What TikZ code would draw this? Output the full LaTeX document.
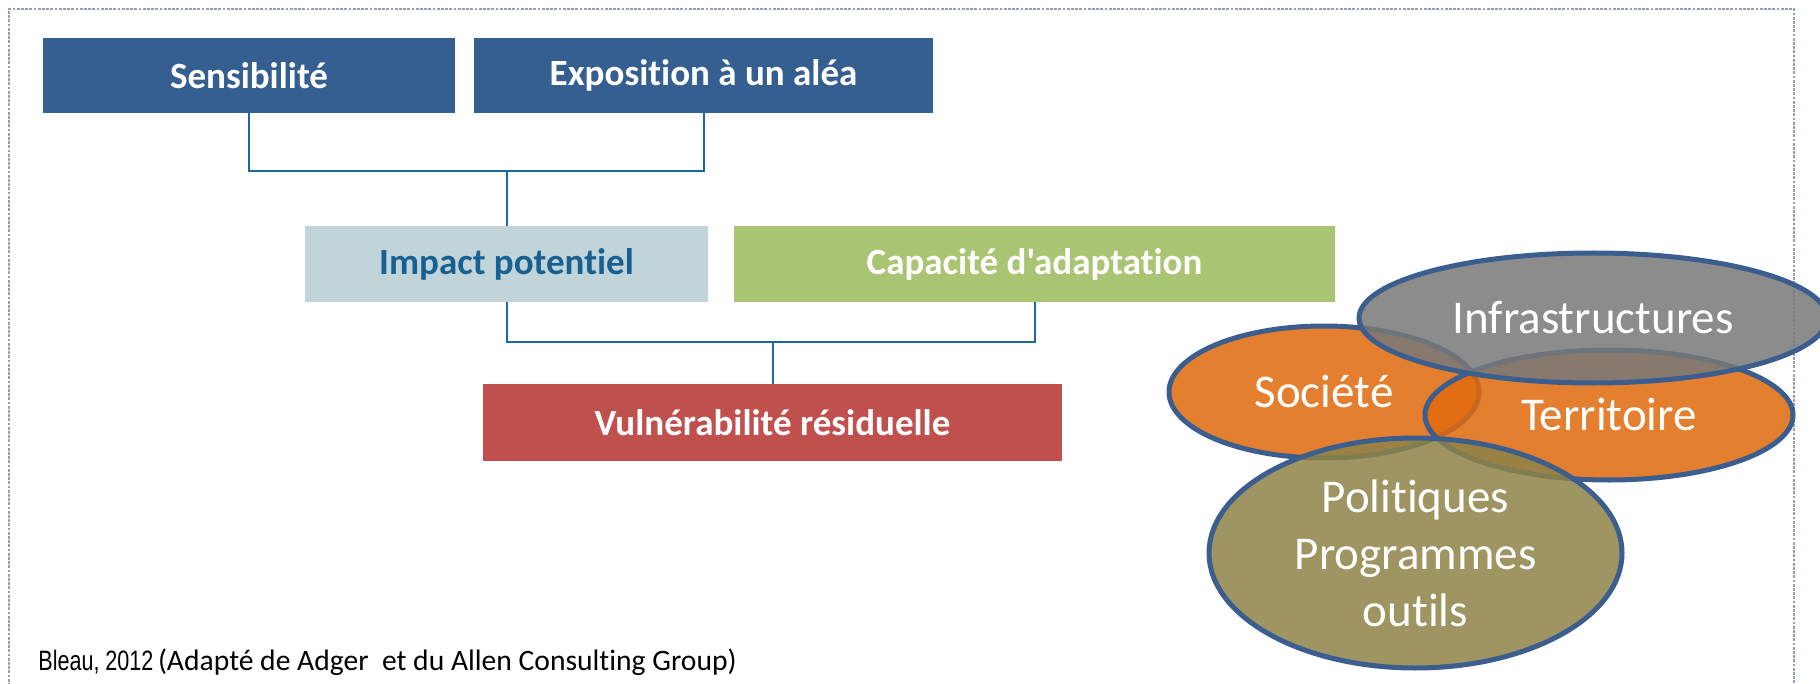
\documentclass[tikz,border=0pt]{standalone}
\usepackage{fontspec}
\setmainfont[Ligatures={TeXOff,NoCommon}]{Carlito}
\newfontfamily\arialfont[FakeStretch=0.77]{Liberation Sans}
\usetikzlibrary{shapes.geometric}

\definecolor{cadre}{RGB}{142,162,190}
\definecolor{bleuboite}{RGB}{54,95,145}
\definecolor{grisbleu}{RGB}{193,212,217}
\definecolor{textebleu}{RGB}{23,96,145}
\definecolor{vertboite}{RGB}{169,196,115}
\definecolor{rougeboite}{RGB}{192,80,77}
\definecolor{lien}{RGB}{28,104,156}
\definecolor{contour}{RGB}{60,94,142}
\definecolor{orangebulle}{RGB}{225,105,12}
\definecolor{grisbulle}{RGB}{120,120,120}
\definecolor{olivebulle}{RGB}{141,131,70}

\begin{document}
\begin{tikzpicture}[x=0.5pt,y=0.5pt,yscale=-1,xscale=1,
	boite/.style={rectangle,inner sep=0pt,minimum height=37.5pt,text=white,font=\fontsize{18.5}{22}\selectfont\bfseries},
	lien/.style={draw=lien,line width=1pt},
	bulle/.style={ellipse,draw=contour,line width=2.5pt,inner sep=0pt,fill opacity=0.85,text opacity=1,text=white,font=\fontsize{23.5}{28.5}\selectfont,align=center}]
	\useasboundingbox (0,0) rectangle (1820,684);
	\clip (0,0) rectangle (1820,684);

	% Frame
	\draw [cadre,line width=0.75pt,dash pattern=on 1.4pt off 0.7pt] (9,690) -- (9,9) -- (1794,9) -- (1794,690);

	% Text Node
	\node [boite,fill=bleuboite,minimum width=206pt] (sens) at (249,75.5) {Sensibilité};
	% Text Node
	\node [boite,fill=bleuboite,minimum width=229.5pt] (expo) at (703.5,75.5) {Exposition à un aléa};
	% Text Node
	\node [boite,fill=grisbleu,text=textebleu,minimum width=201.5pt,minimum height=38pt] (imp) at (506.5,264) {Impact potentiel};
	% Text Node
	\node [boite,fill=vertboite,minimum width=300.5pt,minimum height=38pt] (cap) at (1034.5,264) {Capacité d'adaptation};
	% Text Node
	\node [boite,fill=rougeboite,minimum width=289.5pt,minimum height=38.5pt] (vul) at (772.5,422.5) {Vulnérabilité résiduelle};

	\coordinate (barre1) at (0,171);
	\coordinate (barre2) at (0,342);
	% Connection
	\draw [lien] (sens.south) |- (expo.south |- barre1) -- (expo.south);
	\draw [lien] (imp.north) -- (imp.north |- barre1);
	% Connection
	\draw [lien] (imp.south) |- (cap.south |- barre2) -- (cap.south);
	\draw [lien] (vul.north) -- (vul.north |- barre2);

	% Ellipse Node
	\node [bulle,fill=orangebulle,minimum width=155pt,minimum height=66pt] (soc) at (1324,392) {Société};
	% Ellipse Node
	\node [bulle,fill=orangebulle,minimum width=184pt,minimum height=65pt] (terr) at (1609,415) {Territoire};
	% Ellipse Node
	\node [bulle,fill=grisbulle,minimum width=234pt,minimum height=65pt] (infra) at (1593,318) {Infrastructures};
	% Ellipse Node
	\node [bulle,fill=olivebulle,minimum width=206.5pt,minimum height=115pt] (pol) at (1415.5,553) {Politiques\\Programmes\\outils};

	% Text Node
	\node [anchor=base west,inner sep=0pt] (source) at (38,670) {{\arialfont\fontsize{14}{16}\selectfont Bleau, 2012} {\fontsize{14.8}{17}\selectfont(Adapté de Adger~ et du Allen Consulting Group)}};

\end{tikzpicture}
\end{document}
